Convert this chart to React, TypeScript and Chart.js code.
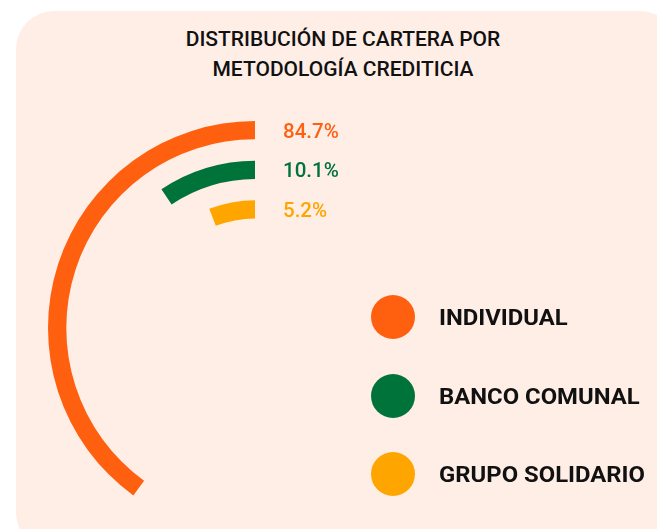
import React, { useEffect, useRef } from "react";
import { Chart, registerables } from "chart.js";

Chart.register(...registerables);

const titleLines = ["DISTRIBUCIÓN DE CARTERA POR", "METODOLOGÍA CREDITICIA"];
const categories = ["INDIVIDUAL", "BANCO COMUNAL", "GRUPO SOLIDARIO"];
const shares = [84.7, 10.1, 5.2];
// sweep of each arc as drawn in the picture (degrees, counter-clockwise from 12 o'clock)
const arcSweepDeg = [144, 34, 21];
const colors = ["#FF6010", "#00733A", "#FFA500"];

const FULL = 360;
const RING = 18;
const GAP = 21;

export default function App() {
  const ref = useRef<HTMLCanvasElement | null>(null);

  useEffect(() => {
    document.body.style.margin = "0";
    const canvas = ref.current;
    if (!canvas) return;
    const datasets: any[] = [];
    categories.forEach((c, i) => {
      if (i > 0) {
        datasets.push({
          label: "spacer" + i,
          data: [1],
          backgroundColor: ["rgba(0,0,0,0)"],
          borderWidth: 0,
          weight: GAP,
          isSpacer: true,
        });
      }
      datasets.push({
        label: c,
        data: [FULL - arcSweepDeg[i], arcSweepDeg[i]],
        backgroundColor: ["rgba(0,0,0,0)", colors[i]],
        borderWidth: 0,
        weight: RING,
        seriesIndex: i,
      });
    });

    const labelPlugin = {
      id: "shareLabels",
      afterDatasetsDraw(chart: any) {
        const ctx = chart.ctx;
        ctx.save();
        ctx.font = "500 20.5px Roboto";
        ctx.textAlign = "left";
        ctx.textBaseline = "alphabetic";
        chart.data.datasets.forEach((ds: any, di: number) => {
          if (ds.isSpacer) return;
          const meta = chart.getDatasetMeta(di);
          const arc = meta.data[1];
          if (!arc) return;
          const p = arc.getProps(["x", "y", "outerRadius", "innerRadius"], true);
          const mid = (p.outerRadius + p.innerRadius) / 2;
          ctx.fillStyle = colors[ds.seriesIndex];
          ctx.fillText(
            shares[ds.seriesIndex].toFixed(1) + "%",
            p.x + 28,
            p.y - mid + 7.5
          );
        });
        ctx.restore();
      },
    };

    const chart = new Chart(canvas, {
      type: "doughnut",
      data: { labels: ["rest", "value"], datasets },
      options: {
        responsive: false,
        maintainAspectRatio: false,
        animation: false,
        events: [],
        rotation: 0,
        circumference: 360,
        radius: 207,
        cutout: 111,
        layout: { padding: 0 },
        plugins: { legend: { display: false }, tooltip: { enabled: false } },
      } as any,
      plugins: [labelPlugin],
    });
    return () => chart.destroy();
  }, []);

  return (
    <div
      style={{
        position: "fixed",
        left: 0,
        top: 0,
        width: 657,
        height: 529,
        overflow: "hidden",
        background: "#ffffff",
        fontFamily: "Roboto, sans-serif",
      }}
    >
      <div
        style={{
          position: "absolute",
          left: 16,
          top: 11,
          width: 662,
          height: 540,
          borderRadius: 38,
          background: "#FFEEE6",
        }}
      />
      <div
        style={{
          position: "absolute",
          left: 143,
          top: 25,
          width: 400,
          textAlign: "center",
          fontSize: 21,
          lineHeight: "29.5px",
          fontWeight: 500,
          color: "#111111",
        }}
      >
        {titleLines.map((t) => (
          <div key={t}>{t}</div>
        ))}
      </div>
      <canvas
        ref={ref}
        width={420}
        height={420}
        style={{ position: "absolute", left: 45, top: 118, width: 420, height: 420 }}
      />
      {categories.map((c, i) => (
        <div
          key={c}
          style={{
            position: "absolute",
            left: 371,
            top: 295 + i * 78.5,
            height: 44,
            display: "flex",
            alignItems: "center",
            whiteSpace: "nowrap",
          }}
        >
          <div
            style={{
              width: 44,
              height: 44,
              borderRadius: "50%",
              background: colors[i],
              flex: "none",
            }}
          />
          <div
            style={{
              marginLeft: 24,
              fontSize: 22.5,
              fontWeight: 700,
              color: "#111111",
              transform: "scaleX(1.06)",
              transformOrigin: "0px 50%",
            }}
          >
            {c}
          </div>
        </div>
      ))}
    </div>
  );
}
